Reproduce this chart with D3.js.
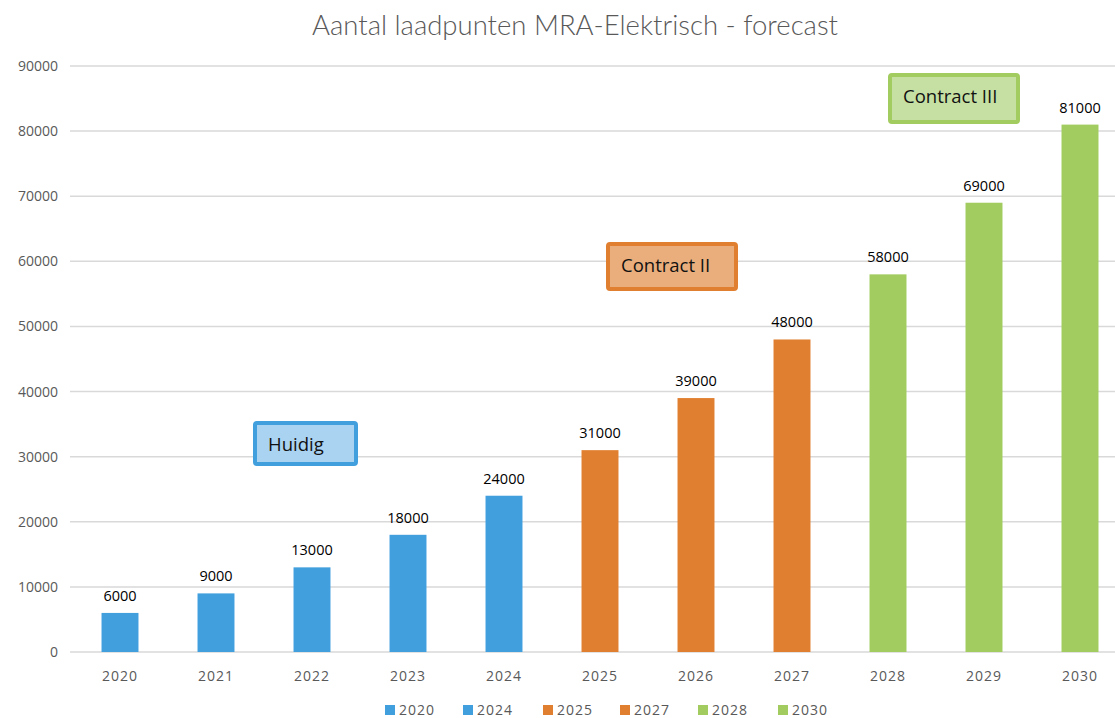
<!DOCTYPE html>
<html>
<head>
<meta charset="utf-8">
<script src="https://cdn.jsdelivr.net/npm/d3@7"></script>
<style>
  body { margin: 0; background: #fff; }
  svg { display: block; font-family: "Open Sans", sans-serif; }
</style>
</head>
<body>
<div id="chart"></div>
<script>
var years = ["2020","2021","2022","2023","2024","2025","2026","2027","2028","2029","2030"];
var values = [6000, 9000, 13000, 18000, 24000, 31000, 39000, 48000, 58000, 69000, 81000];
var phase = ["blue","blue","blue","blue","blue","orange","orange","orange","green","green","green"];
var yTicks = [0, 10000, 20000, 30000, 40000, 50000, 60000, 70000, 80000, 90000];
var legendLabels = ["2020","2024","2025","2027","2028","2030"];
var legendPhase = ["blue","blue","orange","orange","green","green"];
var boxLabels = ["Huidig", "Contract II", "Contract III"];
var boxPhase = ["blue", "orange", "green"];

var colors = { blue: "#419fdd", orange: "#e07f2f", green: "#a2cc5f" };
var fills = { blue: "#aad3f1", orange: "#eaae7d", green: "#c6e0a4" };

var width = 1115, height = 718;
var svg = d3.select("#chart").append("svg").attr("width", width).attr("height", height);

var x = d3.scaleBand().domain(years).range([72, 1128]).paddingInner(0.615).paddingOuter(0.3075);
var y = d3.scaleLinear().domain([0, 90000]).range([652, 66]);

svg.append("text")
    .attr("x", 575).attr("y", 35)
    .attr("text-anchor", "middle")
    .attr("font-family", "Lato, sans-serif")
    .attr("font-weight", 300)
    .attr("font-size", 27.5)
    .attr("fill", "#595959")
    .text("Aantal laadpunten MRA-Elektrisch - forecast");

// gridlines
svg.append("g").selectAll("line").data(yTicks).enter().append("line")
    .attr("x1", 70).attr("x2", width)
    .attr("y1", function(d) { return y(d); }).attr("y2", function(d) { return y(d); })
    .attr("stroke", "#d9d9d9").attr("stroke-width", 1.5);

svg.append("g").selectAll("text").data(yTicks).enter().append("text")
    .attr("x", 58).attr("y", function(d) { return y(d) + 5; })
    .attr("text-anchor", "end")
    .attr("font-size", 14).attr("fill", "#595959")
    .text(function(d) { return d; });

// bars
svg.append("g").selectAll("rect").data(values).enter().append("rect")
    .attr("x", function(d, i) { return x(years[i]); })
    .attr("width", x.bandwidth())
    .attr("y", function(d) { return y(d); })
    .attr("height", function(d) { return y(0) - y(d); })
    .attr("fill", function(d, i) { return colors[phase[i]]; });

svg.append("g").selectAll("text").data(values).enter().append("text")
    .attr("x", function(d, i) { return x(years[i]) + x.bandwidth() / 2; })
    .attr("y", function(d) { return y(d) - 12; })
    .attr("text-anchor", "middle")
    .attr("font-size", 14.5).attr("fill", "#000")
    .text(function(d) { return d; });

// x labels
svg.append("g").selectAll("text").data(years).enter().append("text")
    .attr("x", function(d) { return x(d) + x.bandwidth() / 2; })
    .attr("y", 681)
    .attr("text-anchor", "middle")
    .attr("font-size", 14).attr("fill", "#595959")
    .attr("letter-spacing", 1)
    .text(function(d) { return d; });

// annotation boxes
var boxPos = [[253, 421, 105, 45], [606, 242, 132, 49], [888, 73, 132, 51]];
var boxes = svg.append("g").selectAll("g").data(boxLabels).enter().append("g");
boxes.append("rect")
    .attr("x", function(d, i) { return boxPos[i][0] + 2; })
    .attr("y", function(d, i) { return boxPos[i][1] + 2; })
    .attr("width", function(d, i) { return boxPos[i][2] - 4; })
    .attr("height", function(d, i) { return boxPos[i][3] - 4; })
    .attr("rx", 2)
    .attr("fill", function(d, i) { return fills[boxPhase[i]]; })
    .attr("stroke", function(d, i) { return colors[boxPhase[i]]; })
    .attr("stroke-width", 4);
boxes.append("text")
    .attr("x", function(d, i) { return boxPos[i][0] + 15; })
    .attr("y", function(d, i) { return boxPos[i][1] + 30; })
    .attr("font-size", 18.5).attr("fill", "#111")
    .text(function(d) { return d; });

// legend
var legendX = [385, 463, 543, 620, 698, 778];
var leg = svg.append("g").selectAll("g").data(legendLabels).enter().append("g")
    .attr("transform", function(d, i) { return "translate(" + legendX[i] + ",705)"; });
leg.append("rect").attr("width", 10).attr("height", 10)
    .attr("fill", function(d, i) { return colors[legendPhase[i]]; });
leg.append("text").attr("x", 14).attr("y", 10)
    .attr("font-size", 14).attr("fill", "#595959")
    .attr("letter-spacing", 1)
    .text(function(d) { return d; });
</script>
</body>
</html>
